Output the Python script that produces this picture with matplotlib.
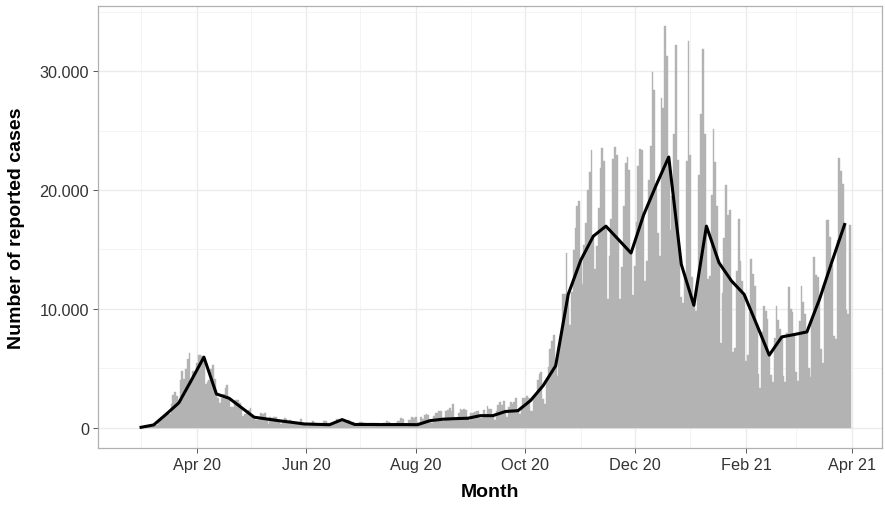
import datetime as dt
import pandas as pd
import matplotlib
matplotlib.use('Agg')
from matplotlib import pyplot as plt
import matplotlib.dates as mdates
from matplotlib.ticker import FuncFormatter, MultipleLocator

plt.rcParams['font.family'] = ['Liberation Sans', 'DejaVu Sans']

# daily reported cases, one row per week (Mon..Sun), from Mon 2 March 2020
daily_start = '2020-03-02'
daily_cases = [
    20, 30, 60, 110, 180, 110, 170,
    240, 280, 500, 650, 900, 1000, 1200,
    1300, 1200, 2000, 2800, 3000, 2700, 1950,
    4060, 4760, 4120, 4950, 5780, 6290, 3970,
    4750, 4620, 5450, 6160, 6170, 6080, 5940,
    3680, 3830, 4000, 4970, 5320, 4130, 2820,
    2540, 2080, 2490, 2870, 3380, 3610, 2460,
    1780, 1790, 2240, 2350, 2340, 2060, 1740,
    1020, 1140, 1300, 1480, 1640, 950, 790,
    700, 690, 950, 1280, 1210, 1250, 670,
    360, 930, 800, 930, 910, 620, 580,
    340, 510, 800, 750, 460, 640, 430,
    290, 430, 360, 350, 740, 290, 310,
    210, 180, 340, 240, 560, 410, 300,
    210, 350, 320, 560, 560, 380, 190,
    250, 380, 350, 770, 580, 600, 690,
    500, 500, 580, 630, 480, 480, 260,
    250, 360, 460, 500, 450, 420, 240,
    220, 400, 400, 440, 380, 380, 250,
    160, 390, 390, 580, 530, 420, 250,
    200, 450, 550, 570, 820, 780, 300,
    340, 630, 680, 900, 870, 950, 500,
    240, 880, 740, 1050, 1150, 1120, 550,
    440, 970, 1230, 1230, 1450, 1420, 620,
    560, 1390, 1510, 1700, 1430, 2030, 780,
    710, 1280, 1580, 1510, 1570, 1480, 780,
    610, 1220, 1250, 1310, 1420, 1380, 800,
    810, 1500, 1200, 1860, 1600, 1630, 980,
    650, 1400, 1900, 2200, 1900, 2300, 1300,
    920, 1770, 2140, 2000, 2150, 2500, 1400,
    1190, 1800, 2500, 2500, 2670, 2500, 1400,
    1380, 2640, 2830, 4060, 4520, 4720, 2470,
    1970, 4120, 5130, 6640, 7330, 7830, 5590,
    4330, 6870, 7600, 11290, 11240, 14710, 11180,
    8690, 11410, 14960, 16770, 18680, 19060, 14180,
    12100, 15350, 17210, 19990, 21510, 23400, 16020,
    13360, 15330, 18490, 21870, 23540, 22460, 16950,
    10820, 14420, 17560, 22610, 23650, 22960, 15740,
    10860, 13550, 18630, 22270, 22810, 21700, 14610,
    11170, 13600, 17270, 22050, 23450, 23320, 17770,
    12330, 14050, 20820, 23680, 29880, 28440, 20200,
    16360, 14430, 27730, 26920, 33780, 31300, 22770,
    16640, 19530, 24740, 32200, 22500, 14460, 10980,
    10500, 12900, 22460, 32550, 22920, 12690, 10320,
    9850, 11900, 21240, 26390, 31850, 24690, 16950,
    12500, 12800, 19600, 25160, 22370, 18680, 13880,
    7140, 11370, 15970, 20400, 17860, 18300, 12260,
    6410, 6730, 13200, 17550, 14020, 12320, 11190,
    5610, 6110, 9710, 14210, 12910, 11910, 8620,
    4540, 3380, 8070, 10240, 9860, 9160, 6110,
    4430, 3860, 7560, 10210, 9110, 8350, 7680,
    4370, 3880, 8010, 11870, 10000, 9760, 7890,
    4730, 3940, 9020, 11910, 10580, 9560, 8100,
    5010, 4250, 9150, 14360, 12830, 12670, 10790,
    6600, 5480, 11910, 17500, 17480, 16030, 13730,
    7710, 7490, 15810, 22660, 21570, 20470, 17180,
    9870, 9550, 17050,
]

# weekly line, one value per Sunday from 1 March 2020
weekly_start = '2020-03-01'
weekly_cases = [
    50, 250, 1150, 2100, 4000, 5950, 2850, 2500, 1700, 900,
    750, 600, 470, 330, 300, 270, 700, 290, 290, 280,
    280, 280, 270, 610, 730, 780, 810, 1030, 1030, 1380,
    1450, 2300, 3550, 5220, 11230, 14100, 16120, 16960, 15830, 14700,
    17900, 20400, 22770, 13750, 10310, 16960, 13890, 12350, 11230, 8700,
    6120, 7650, 7850, 8070, 10810, 14000, 17100,
]

days = pd.date_range(daily_start, periods=len(daily_cases), freq='D')
weeks = pd.date_range(weekly_start, periods=len(weekly_cases), freq='7D')

fig = plt.figure(figsize=(8.85, 5.06), dpi=100)
ax = fig.add_axes([98 / 885, 1 - 449 / 506, 784 / 885, 442 / 506])

# bars touch each other; thin same-colour edge hides pixel seams
ax.bar(days, daily_cases, width=1.0, color='#b3b3b3', edgecolor='#b3b3b3',
       linewidth=0.3, zorder=2)
ax.plot(weeks, weekly_cases, color='black', lw=2.2, zorder=3)

ax.set_xlim(dt.datetime(2020, 2, 6), dt.datetime(2021, 4, 17, 20))
ax.set_ylim(-1689, 35466)

ax.xaxis.set_major_locator(mdates.MonthLocator(bymonth=[2, 4, 6, 8, 10, 12]))
ax.xaxis.set_minor_locator(mdates.MonthLocator(bymonth=[1, 3, 5, 7, 9, 11]))
ax.xaxis.set_major_formatter(mdates.DateFormatter('%b %y'))
ax.yaxis.set_major_locator(MultipleLocator(10000))
ax.yaxis.set_minor_locator(MultipleLocator(5000))
ax.yaxis.set_major_formatter(FuncFormatter(lambda v, p: '{:,.0f}'.format(v).replace(',', '.')))

ax.grid(which='major', color='#ebebeb', lw=1.0, zorder=0)
ax.grid(which='minor', color='#f3f3f3', lw=0.6, zorder=0)
ax.set_axisbelow(True)

for s in ax.spines.values():
    s.set_color('#b0b0b0')
    s.set_linewidth(0.9)

ax.tick_params(which='major', length=3.5, width=0.7, color='#555555',
               labelsize=11.7, labelcolor='#333333', pad=3)
ax.tick_params(which='minor', length=0)

fig.text(17 / 885, 1 - 228 / 506, 'Number of reported cases', rotation=90,
         ha='center', va='center', fontsize=14, fontweight='bold')
fig.text(490 / 885, 1 - 493 / 506, 'Month', ha='center', va='center',
         fontsize=14, fontweight='bold')

fig.savefig('out.png', dpi=100)
